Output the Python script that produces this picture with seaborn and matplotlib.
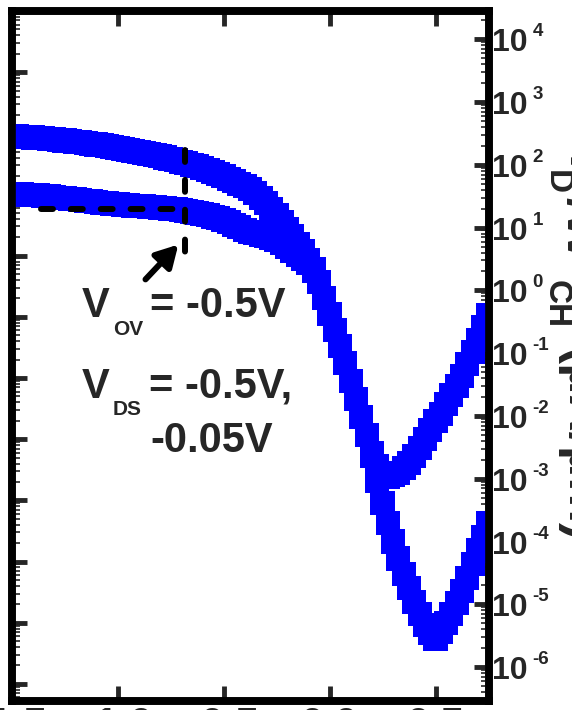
import numpy as np
import pandas as pd
import matplotlib
matplotlib.use("Agg")
import matplotlib.pyplot as plt
import matplotlib.transforms as mtransforms
from matplotlib.ticker import FixedLocator, LogLocator, NullLocator, NullFormatter
import seaborn as sns

# gate voltage grid (V) and log10 of I_D/W_CH (uA/um)
vgs = np.linspace(-1.5, 0.75, 91)

log_id_vds_05 = [
    2.460, 2.454, 2.448, 2.441, 2.435, 2.429, 2.421, 2.413, 2.406, 2.397,
    2.387, 2.376, 2.365, 2.356, 2.344, 2.333, 2.324, 2.314, 2.300, 2.286,
    2.270, 2.254, 2.238, 2.222, 2.206, 2.190, 2.175, 2.159, 2.138, 2.117,
    2.095, 2.071, 2.048, 2.027, 2.000, 1.976, 1.952, 1.921, 1.889, 1.857,
    1.817, 1.778, 1.738, 1.698, 1.659, 1.619, 1.556, 1.476, 1.397, 1.302,
    1.206, 1.095, 0.984, 0.873, 0.746, 0.619, 0.476, 0.333, 0.127, -0.127,
    -0.381, -0.635, -0.889, -1.159, -1.444, -1.730, -2.016, -2.302, -2.587, -2.794,
    -2.905, -2.968, -2.937, -2.905, -2.825, -2.746, -2.635, -2.508, -2.365, -2.222,
    -2.079, -1.968, -1.810, -1.667, -1.524, -1.365, -1.175, -0.984, -0.794, -0.587,
    -0.397,
]

log_id_vds_005 = [
    1.540, 1.535, 1.530, 1.524, 1.519, 1.513, 1.505, 1.497, 1.489, 1.479,
    1.470, 1.460, 1.451, 1.441, 1.430, 1.419, 1.408, 1.397, 1.387, 1.378,
    1.370, 1.362, 1.356, 1.349, 1.343, 1.337, 1.330, 1.324, 1.317, 1.310,
    1.302, 1.294, 1.286, 1.270, 1.254, 1.238, 1.219, 1.198, 1.175, 1.151,
    1.119, 1.087, 1.048, 1.008, 0.968, 0.937, 0.913, 0.889, 0.865, 0.841,
    0.810, 0.762, 0.698, 0.635, 0.571, 0.508, 0.429, 0.317, 0.127, -0.127,
    -0.381, -0.635, -0.889, -1.159, -1.444, -1.730, -2.016, -2.302, -2.635, -3.032,
    -3.381, -3.698, -4.000, -4.270, -4.524, -4.746, -4.968, -5.159, -5.333, -5.460,
    -5.556, -5.444, -5.302, -5.159, -4.984, -4.794, -4.587, -4.365, -4.143, -3.921,
    -3.698,
]

xtick_vals = [-1.5, -1.0, -0.5, 0.0, 0.5]
xtick_labels = ["-1.5", "-1.0", "-0.5", "0.0", "0.5"]
right_decades = list(range(-6, 5))
left_decades = list(range(-10, 1))

# V_OV = -0.5 V guide
v_ov_gate = -0.68
i_ov = 10 ** 1.29
v_guide_top = 10 ** 2.24
v_guide_bottom = 10 ** 0.35
h_guide_start = -1.36

df = pd.DataFrame({
    "vgs": np.concatenate([vgs, vgs]),
    "id": np.concatenate([10 ** np.array(log_id_vds_05), 10 ** np.array(log_id_vds_005)]),
    "vds": ["-0.5V"] * len(vgs) + ["-0.05V"] * len(vgs),
})

sns.set_style("white")
plt.rcParams["font.family"] = ["Liberation Sans", "DejaVu Sans"]
plt.rcParams["font.weight"] = "bold"
plt.rcParams["axes.unicode_minus"] = False

W, H = 572, 710
fig = plt.figure(figsize=(W / 100, H / 100), dpi=100)
ax = fig.add_axes([11.5 / W, 9 / H, 477 / W, 690 / H])
ax2 = ax.twinx()

ax.set_xlim(-1.5, 0.75)
ax.set_yscale("log")
ax.set_ylim(10 ** -10.28, 10 ** 1.0)
ax2.set_yscale("log")
ax2.set_ylim(10 ** -6.54, 10 ** 4.45)

sns.scatterplot(data=df, x="vgs", y="id", hue="vds", palette=["#0000ff", "#0000ff"],
                marker="s", s=300, linewidth=0, legend=False, ax=ax2)
ax2.set_ylim(10 ** -6.54, 10 ** 4.45)
ax2.set_xlim(-1.5, 0.75)
ax2.set_xlabel("")
ax2.set_ylabel("")
ax.set_xlabel("")

# dashed guides and arrow
ax2.plot([v_ov_gate, v_ov_gate], [v_guide_top, v_guide_bottom], color="black", lw=4.3,
         dashes=(2, 3), dash_capstyle="round", zorder=4)
ax2.plot([h_guide_start, v_ov_gate], [i_ov, i_ov], color="black", lw=4.3,
         dashes=(2, 3), dash_capstyle="round", zorder=4)
ax2.annotate("", xy=(-0.713, 10 ** 0.73), xytext=(-0.868, 10 ** 0.175),
             arrowprops=dict(arrowstyle="-|>,head_length=0.5,head_width=0.28",
                             color="black", lw=4.3, mutation_scale=26,
                             shrinkA=0, shrinkB=0))

# spines and ticks
for a in (ax, ax2):
    for sp in a.spines.values():
        sp.set_linewidth(5.5)
        sp.set_color("black")

ax.set_xticks(xtick_vals)
ax.set_xticklabels(xtick_labels)
ax.xaxis.set_minor_locator(NullLocator())
ax.tick_params(axis="x", which="major", direction="in", length=11, width=3.5,
               top=True, bottom=True, labelsize=30, pad=3.5)

ax.yaxis.set_major_locator(FixedLocator([10.0 ** k for k in left_decades]))
ax.yaxis.set_minor_locator(LogLocator(base=10, subs=np.arange(2, 10), numticks=100))
ax.yaxis.set_major_formatter(NullFormatter())
ax.yaxis.set_minor_formatter(NullFormatter())
ax.tick_params(axis="y", which="both", direction="in", left=True, right=False, labelleft=False)
ax.tick_params(axis="y", which="major", length=11, width=3.5)
ax.tick_params(axis="y", which="minor", length=6, width=1.2)

ax2.yaxis.set_major_locator(FixedLocator([10.0 ** k for k in right_decades]))
ax2.yaxis.set_minor_locator(LogLocator(base=10, subs=np.arange(2, 10), numticks=100))
ax2.yaxis.set_major_formatter(NullFormatter())
ax2.yaxis.set_minor_formatter(NullFormatter())
ax2.tick_params(axis="y", which="both", direction="in", right=True, left=False, labelright=False)
ax2.tick_params(axis="y", which="major", length=11, width=3.5)
ax2.tick_params(axis="y", which="minor", length=6, width=1.2)

# right tick labels written as 10 with a raised exponent
base = mtransforms.blended_transform_factory(ax2.transAxes, ax2.transData)
for n in right_decades:
    t10 = mtransforms.offset_copy(base, fig=fig, x=4, y=-12, units="dots")
    texp = mtransforms.offset_copy(base, fig=fig, x=44, y=3, units="dots")
    ax2.text(1.0, 10.0 ** n, "10", transform=t10, fontsize=23, fontweight="bold",
             ha="left", va="baseline", clip_on=False)
    ax2.text(1.0, 10.0 ** n, f"{n}", transform=texp, fontsize=13.5, fontweight="bold",
             ha="left", va="baseline", clip_on=False)


def fpx(x, y):
    return x / W, 1 - y / H


# annotation text
fig.text(*fpx(82, 317), "V", fontsize=30, ha="left", va="baseline")
fig.text(*fpx(113, 335), "OV", fontsize=15, ha="left", va="baseline")
fig.text(*fpx(150, 317), "= -0.5V", fontsize=30, ha="left", va="baseline")
fig.text(*fpx(82, 398), "V", fontsize=30, ha="left", va="baseline")
fig.text(*fpx(113, 415), "DS", fontsize=15, ha="left", va="baseline")
fig.text(*fpx(149, 398), "= -0.5V,", fontsize=30, ha="left", va="baseline")
fig.text(*fpx(150, 452), "-0.05V", fontsize=30, ha="left", va="baseline")

# right axis title, mostly outside the crop
label_parts = [
    ("I", 567, 156, 37),
    ("D", 548, 170, 24),
    ("/W", 567, 197, 37),
    ("CH", 548, 280, 24),
    ("(μA/μm)", 567, 348, 37),
]
for txt, bx, sy, fs in label_parts:
    fig.text(*fpx(bx, sy), txt, fontsize=fs, rotation=270, rotation_mode="anchor",
             ha="left", va="baseline")

fig.savefig("out.png", dpi=100)
